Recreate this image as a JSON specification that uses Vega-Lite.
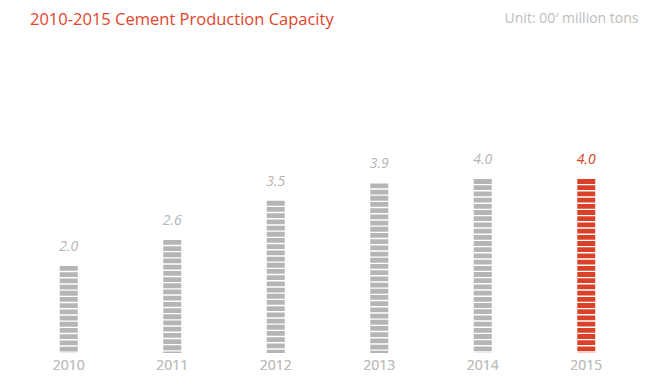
{
  "$schema": "https://vega.github.io/schema/vega-lite/v6.json",
  "autosize": {"type": "none"},
  "width": 621,
  "height": 313,
  "padding": {"left": 17, "top": 40, "right": 23, "bottom": 31},
  "background": "white",
  "title": {
    "text": "2010-2015 Cement Production Capacity",
    "anchor": "start",
    "frame": "group",
    "dx": 13,
    "dy": 21,
    "fontSize": 16.5,
    "font": "Open Sans",
    "fontWeight": "normal",
    "color": "#e0452b",
    "offset": 4
  },
  "config": {"view": {"stroke": null}, "font": "Open Sans"},
  "data": {
    "values": [
      {"year": "2010", "value": 2.0, "label": "2.0", "hl": "no"},
      {"year": "2011", "value": 2.6, "label": "2.6", "hl": "no"},
      {"year": "2012", "value": 3.5, "label": "3.5", "hl": "no"},
      {"year": "2013", "value": 3.9, "label": "3.9", "hl": "no"},
      {"year": "2014", "value": 4.0, "label": "4.0", "hl": "no"},
      {"year": "2015", "value": 4.0, "label": "4.0", "hl": "yes"}
    ]
  },
  "encoding": {
    "x": {
      "field": "year",
      "type": "nominal",
      "sort": null,
      "scale": {"paddingInner": 0, "paddingOuter": 0},
      "axis": {
        "orient": "bottom",
        "title": null,
        "labelAngle": 0,
        "labelFontSize": 14,
        "labelColor": "#c0c0c0",
        "labelPadding": 5,
        "ticks": false,
        "domain": false,
        "grid": false
      }
    },
    "color": {
      "field": "hl",
      "type": "nominal",
      "scale": {"domain": ["no", "yes"], "range": ["#b5b5b5", "#db4128"]},
      "legend": null
    }
  },
  "layer": [
    {
      "mark": {"type": "rule", "strokeWidth": 18, "strokeDash": [4.8, 1.4]},
      "encoding": {
        "y": {
          "field": "value",
          "type": "quantitative",
          "scale": {"domain": [0, 7.2], "nice": false},
          "axis": null
        },
        "y2": {"datum": 0}
      }
    },
    {
      "mark": {"type": "text", "fontStyle": "italic", "fontSize": 14, "dy": -12, "baseline": "bottom"},
      "encoding": {
        "y": {"field": "value", "type": "quantitative"},
        "text": {"field": "label"}
      }
    },
    {
      "mark": {"type": "rule", "opacity": 0},
      "encoding": {
        "x": {
          "field": "year",
          "type": "nominal",
          "sort": null,
          "axis": {
            "orient": "top",
            "title": "Unit: 00′ million tons",
            "titleAnchor": "end",
            "titleAlign": "right",
            "titleFontSize": 14,
            "titleFontWeight": "normal",
            "titleColor": "#bdbdbd",
            "titleY": -15,
            "labels": false,
            "ticks": false,
            "domain": false,
            "grid": false
          }
        },
        "y": {"datum": 0}
      }
    }
  ],
  "resolve": {"axis": {"x": "independent"}}
}
